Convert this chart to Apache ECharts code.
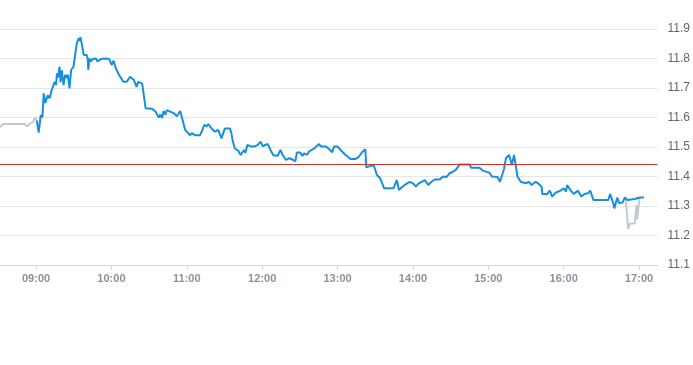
<!DOCTYPE html>
<html>
<head>
<meta charset="utf-8">
<script src="https://cdn.jsdelivr.net/npm/echarts@6/dist/echarts.min.js"></script>
<style>html,body{margin:0;padding:0;background:#fff;}#c{width:693px;height:365px;}</style>
</head>
<body>
<div id="c"></div>
<script>
// Times are minutes after 09:00
var preTime = [-28.7, -26.1, -8.9, -7.1, -5.0, -2.4, -1.0, 0.55];
var preValue = [11.567, 11.578, 11.578, 11.569, 11.578, 11.585, 11.600, 11.590];

var blueTime = [
  0.55, 2.1, 3.7, 5.05, 6.1, 7.4, 9.2, 10.8, 12.4, 13.4,
  14.8, 16.0, 16.6, 17.4, 18.7, 19.5, 20.5, 21.9, 23.2, 24.0,
  25.3, 26.6, 27.9, 29.8, 32.4, 33.9, 34.7, 35.3, 36.6, 37.9,
  40.3, 41.1, 41.6, 42.4, 43.7, 45.0, 47.7, 48.9, 51.6, 55.0,
  58.2, 60.3, 61.6, 63.5, 66.1, 69.5, 70.8, 72.2, 74.8, 77.9,
  80.0, 81.3, 84.5, 85.3, 87.2, 92.4, 95.1, 97.7, 99.0, 100.3,
  101.6, 102.9, 104.2, 109.5, 112.1, 114.8, 118.7, 122.7, 124.0, 126.6,
  130.6, 132.4, 134.0, 135.8, 137.1, 139.7, 142.4, 143.7, 145.0, 147.6,
  149.0, 150.3, 154.3, 155.5, 156.4, 158.2, 160.8, 162.9, 164.0, 165.5,
  166.6, 168.2, 170.8, 174.0, 176.6, 178.7, 180.6, 182.4, 184.5, 186.6,
  189.0, 192.4, 194.5, 196.4, 199.0, 201.6, 204.8, 206.4, 207.6, 210.3,
  212.1, 213.5, 215.5, 217.4, 221.4, 225.3, 226.6, 230.5, 233.2, 235.8,
  237.2, 239.8, 242.4, 246.3, 248.2, 250.3, 254.2, 256.9, 259.5, 262.1,
  262.9, 265.6, 268.8, 271.3, 273.9, 277.1, 284.5, 287.1, 288.9, 291.6,
  295.0, 297.6, 300.3, 302.4, 304.3, 309.5, 312.2, 314.8, 317.4, 321.3,
  324.0, 326.6, 329.2, 331.9, 334.5, 337.1, 345.0, 346.3, 352.9, 355.5,
  360.8, 362.9, 367.4, 369.2, 371.4, 372.6, 374.0, 376.6, 378.7, 380.5,
  383.2, 385.8, 389.8, 392.4, 394.5, 397.7, 400.3, 402.4, 403.0, 406.9,
  409.0, 410.8, 413.5, 417.4, 420.0, 421.9, 422.7, 425.3, 427.9, 431.4,
  434.0, 436.6, 439.3, 441.1, 443.7, 455.5, 456.9, 459.5, 460.3, 462.7,
  464.0, 466.9, 468.7, 470.8, 476.6, 480.5, 483.9
];
var blueValue = [
  11.590, 11.549, 11.608, 11.600, 11.682, 11.649, 11.675, 11.665, 11.693, 11.688,
  11.721, 11.710, 11.750, 11.735, 11.772, 11.720, 11.760, 11.710, 11.745, 11.735,
  11.745, 11.699, 11.761, 11.772, 11.851, 11.868, 11.860, 11.872, 11.846, 11.812,
  11.812, 11.800, 11.761, 11.800, 11.790, 11.798, 11.800, 11.790, 11.798, 11.800,
  11.798, 11.778, 11.793, 11.767, 11.744, 11.721, 11.727, 11.721, 11.738, 11.727,
  11.704, 11.721, 11.715, 11.710, 11.631, 11.630, 11.620, 11.600, 11.610, 11.598,
  11.622, 11.610, 11.625, 11.615, 11.604, 11.622, 11.558, 11.540, 11.547, 11.540,
  11.540, 11.558, 11.575, 11.570, 11.578, 11.563, 11.552, 11.547, 11.558, 11.529,
  11.547, 11.563, 11.563, 11.547, 11.524, 11.495, 11.488, 11.473, 11.473, 11.490,
  11.480, 11.507, 11.502, 11.502, 11.507, 11.518, 11.502, 11.507, 11.510, 11.490,
  11.471, 11.471, 11.490, 11.473, 11.456, 11.462, 11.456, 11.451, 11.481, 11.481,
  11.470, 11.479, 11.473, 11.485, 11.495, 11.510, 11.502, 11.502, 11.493, 11.482,
  11.502, 11.502, 11.490, 11.473, 11.467, 11.459, 11.459, 11.467, 11.482, 11.492,
  11.431, 11.435, 11.439, 11.405, 11.394, 11.360, 11.360, 11.388, 11.354, 11.365,
  11.376, 11.382, 11.376, 11.366, 11.376, 11.388, 11.371, 11.382, 11.390, 11.390,
  11.400, 11.398, 11.411, 11.416, 11.424, 11.441, 11.441, 11.430, 11.430, 11.420,
  11.413, 11.400, 11.398, 11.382, 11.410, 11.427, 11.462, 11.473, 11.439, 11.473,
  11.400, 11.382, 11.377, 11.382, 11.371, 11.382, 11.374, 11.365, 11.341, 11.341,
  11.352, 11.332, 11.345, 11.352, 11.360, 11.349, 11.371, 11.354, 11.341, 11.352,
  11.332, 11.341, 11.343, 11.352, 11.320, 11.320, 11.341, 11.309, 11.292, 11.329,
  11.310, 11.312, 11.329, 11.320, 11.324, 11.329, 11.329
];

var postTime = [469.3, 471.3, 472.7, 476.6, 477.9, 478.4, 479.2, 480.5];
var postValue = [11.330, 11.221, 11.241, 11.241, 11.303, 11.255, 11.280, 11.329];

var refLine = 11.44;
var hourTicks = [540, 600, 660, 720, 780, 840, 900, 960, 1020];
var axisMinTime = -28.7, axisMaxTime = 494.7;
var BASE = 540;

function pairs(t, v) { return t.map(function (x, i) { return [BASE + x, v[i]]; }); }
function fmt(v) {
  var h = Math.floor(v / 60), m = Math.round(v - h * 60);
  return (h < 10 ? '0' : '') + h + ':' + (m < 10 ? '0' : '') + m;
}

var chart = echarts.init(document.getElementById('c'), null, {renderer: 'canvas'});
chart.setOption({
  animation: false,
  grid: {left: 0, right: 30, top: 29, bottom: 100, containLabel: false},
  xAxis: {
    type: 'value',
    min: BASE + axisMinTime,
    max: BASE + axisMaxTime,
    splitLine: {show: false},
    axisLine: {show: true, lineStyle: {color: '#ccd6eb', width: 1}},
    axisTick: {show: true, customValues: hourTicks, length: 5, lineStyle: {color: '#ccd6eb'}},
    axisLabel: {
      customValues: hourTicks,
      formatter: function (v) { return fmt(v); },
      color: '#8a929c', fontSize: 11, fontWeight: 'bold', margin: 8,
      fontFamily: 'Liberation Sans, Arial, sans-serif'
    }
  },
  yAxis: {
    type: 'value',
    position: 'right',
    min: 11.1, max: 11.9, interval: 0.1,
    axisLine: {show: false},
    axisTick: {show: false},
    splitLine: {show: true, lineStyle: {color: '#e6e6e6', width: 1}},
    axisLabel: {
      formatter: function (v) { return v.toFixed(1); },
      color: '#666666', fontSize: 12, margin: 10,
      fontFamily: 'Liberation Sans, Arial, sans-serif'
    }
  },
  series: [
    {
      type: 'line', data: pairs(preTime, preValue), showSymbol: false, symbol: 'none',
      lineStyle: {color: '#c2cad3', width: 2}, z: 2
    },
    {
      type: 'line', data: pairs(postTime, postValue), showSymbol: false, symbol: 'none',
      lineStyle: {color: '#c2cad3', width: 2}, z: 2
    },
    {
      type: 'line', data: pairs(blueTime, blueValue), showSymbol: false, symbol: 'none',
      lineStyle: {color: '#1690dc', width: 2}, z: 4,
      markLine: {
        silent: true, symbol: 'none', label: {show: false},
        lineStyle: {color: '#cc3333', width: 1, type: 'solid'},
        data: [{yAxis: refLine}]
      }
    }
  ]
});
</script>
</body>
</html>
